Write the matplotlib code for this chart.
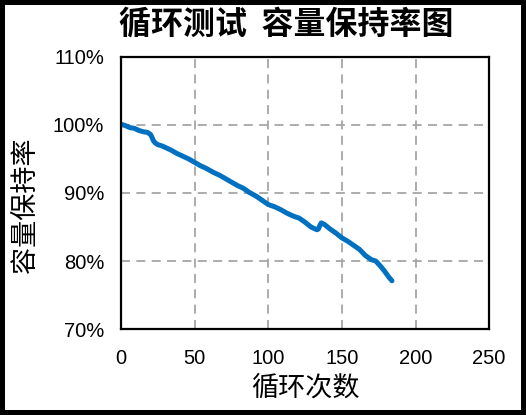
import numpy as np
import matplotlib as mpl
mpl.use('Agg')
import matplotlib.pyplot as plt
from matplotlib.ticker import FuncFormatter

# cycle number and capacity retention (%)
cycles = [0, 3, 6, 9, 12, 15, 18, 20, 21, 22, 23, 25, 28, 31, 34, 38, 42, 46,
          50, 54, 58, 63, 67, 71, 75, 79, 83, 87, 92, 96, 100, 104, 108, 113,
          117, 121, 125, 129, 133, 134, 135, 136, 138, 142, 146, 150, 154,
          158, 162, 166, 170, 173, 176, 179, 182, 184]
retention = [100.1, 99.9, 99.6, 99.5, 99.2, 99.0, 98.9, 98.6, 98.2, 97.7,
             97.4, 97.1, 96.9, 96.6, 96.3, 95.8, 95.4, 95.0, 94.5, 94.0,
             93.6, 93.0, 92.6, 92.1, 91.6, 91.1, 90.7, 90.1, 89.5, 88.9,
             88.3, 88.0, 87.6, 87.0, 86.6, 86.3, 85.7, 85.0, 84.6, 84.7,
             85.2, 85.6, 85.4, 84.7, 84.1, 83.4, 82.9, 82.3, 81.7, 80.8,
             80.2, 80.0, 79.3, 78.5, 77.6, 77.1]

xticks = [0, 50, 100, 150, 200, 250]
yticks = [70, 80, 90, 100, 110]

title = '循环测试  容量保持率图'
xlabel = '循环次数'
ylabel = '容量保持率'

cjk = ['Noto Sans CJK SC', 'DejaVu Sans']
num = ['Liberation Sans', 'DejaVu Sans']

fig = plt.figure(figsize=(5.26, 4.15), dpi=100)
fig.patch.set_edgecolor('black')
fig.patch.set_linewidth(6)
ax = fig.add_axes([0.230, 0.207, 0.700, 0.656])

ax.plot(cycles, retention, color='#0070C0', lw=3.6, solid_capstyle='round')

ax.set_xlim(0, 250)
ax.set_ylim(70, 110)
ax.set_xticks(xticks)
ax.set_yticks(yticks)
ax.yaxis.set_major_formatter(FuncFormatter(lambda v, p: f'{v:.0f}%'))
ax.tick_params(length=0, labelsize=14.5)
ax.tick_params(axis='x', pad=14)
ax.tick_params(axis='y', pad=12)
for lab in ax.get_xticklabels() + ax.get_yticklabels():
    lab.set_family(num)

ax.grid(True, color='#A6A6A6', ls=(0, (5, 3.5)), lw=1.3)
for s in ax.spines.values():
    s.set_linewidth(1.6)
    s.set_color('black')

fig.text(0.545, 0.942, title, ha='center', va='center', fontsize=23,
         fontweight='bold', family=cjk)
fig.text(0.5 * (0.230 + 0.930), 0.065, xlabel, ha='center', va='center',
         fontsize=19.5, family=cjk)
fig.text(0.048, 0.505, ylabel, ha='center', va='center', rotation=90,
         fontsize=19.5, family=cjk)

fig.savefig('out.png', dpi=100, edgecolor=fig.get_edgecolor())
